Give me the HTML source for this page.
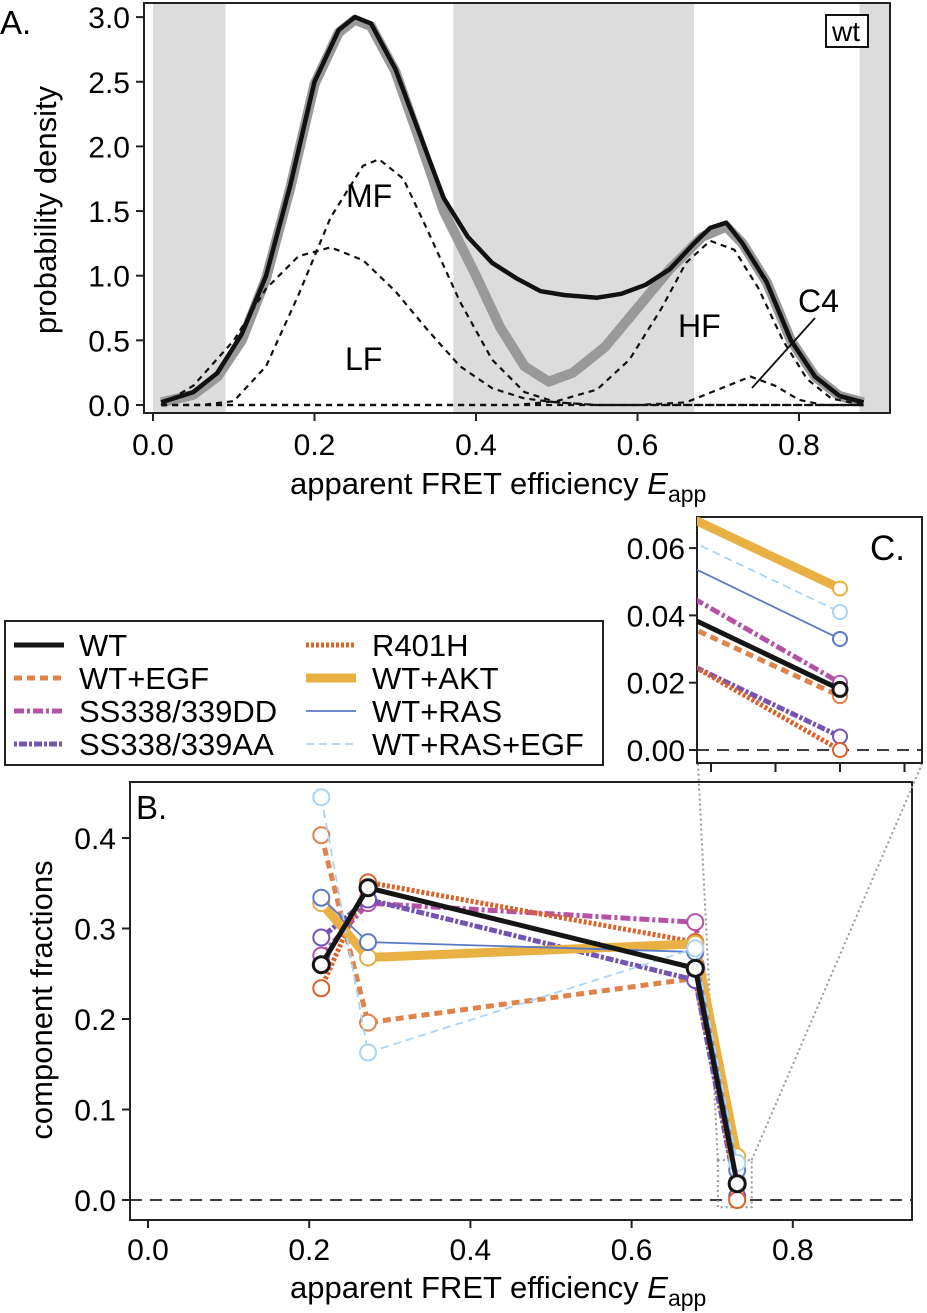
<!DOCTYPE html>
<html><head><meta charset="utf-8"><style>
html,body{margin:0;padding:0;background:#fff;}
svg{display:block;font-family:"Liberation Sans",sans-serif;}
</style></head><body>
<svg id="fig" width="927" height="1313" viewBox="0 0 927 1313" xmlns="http://www.w3.org/2000/svg">
<defs>
<clipPath id="clipA"><rect x="144" y="3" width="746" height="410"/></clipPath>
<clipPath id="clipC"><rect x="697" y="517" width="225" height="246"/></clipPath>
</defs>
<g id="panelA"></g>
<g id="panelB"></g>
<g id="panelC"></g>
<g id="legend"></g>
</svg>
<script>
// ---- Panel A data ----
const aTotalE = [0.01,0.05,0.08,0.11,0.14,0.17,0.20,0.23,0.25,0.27,0.30,0.33,0.36,0.39,0.42,0.45,0.48,0.51,0.55,0.58,0.61,0.64,0.67,0.69,0.71,0.73,0.76,0.79,0.82,0.85,0.88];
const aTotalY = [0.02,0.10,0.25,0.55,1.00,1.70,2.50,2.90,3.00,2.95,2.60,2.10,1.60,1.30,1.10,0.98,0.88,0.85,0.83,0.86,0.93,1.05,1.25,1.37,1.41,1.25,0.95,0.50,0.22,0.07,0.02];
const aFitE = [0.01,0.05,0.08,0.11,0.14,0.17,0.20,0.23,0.25,0.27,0.30,0.33,0.36,0.40,0.43,0.46,0.49,0.52,0.56,0.60,0.64,0.68,0.71,0.73,0.76,0.79,0.82,0.85,0.88];
const aFitY = [0.02,0.08,0.22,0.50,0.98,1.68,2.48,2.88,2.98,2.93,2.58,2.05,1.50,1.00,0.60,0.30,0.18,0.25,0.45,0.75,1.05,1.30,1.38,1.25,0.95,0.50,0.22,0.07,0.02];
const lfE = [0.01,0.05,0.10,0.14,0.18,0.22,0.26,0.30,0.34,0.38,0.42,0.46,0.50,0.55,0.88];
const lfY = [0.0,0.15,0.50,0.90,1.15,1.22,1.12,0.88,0.58,0.30,0.13,0.05,0.02,0.0,0.0];
const mfE = [0.01,0.06,0.10,0.14,0.18,0.22,0.26,0.28,0.31,0.34,0.38,0.42,0.46,0.50,0.55,0.88];
const mfY = [0.0,0.0,0.03,0.30,0.85,1.45,1.85,1.90,1.75,1.35,0.80,0.35,0.10,0.02,0.0,0.0];
const hfE = [0.01,0.45,0.50,0.55,0.59,0.63,0.66,0.69,0.72,0.75,0.78,0.81,0.84,0.88];
const hfY = [0.0,0.0,0.03,0.12,0.35,0.75,1.10,1.27,1.20,0.90,0.50,0.20,0.05,0.0];
const c4E = [0.01,0.60,0.66,0.70,0.74,0.77,0.80,0.83,0.88];
const c4Y = [0.0,0.0,0.02,0.12,0.22,0.15,0.04,0.0,0.0];
const aBands = [[0.0,0.09],[0.372,0.67],[0.875,0.95]];
const aYTicks = ["0.0","0.5","1.0","1.5","2.0","2.5","3.0"];
const aXTicks = ["0.0","0.2","0.4","0.6","0.8"];

// ---- Panel B/C data ----
const bE = [0.215,0.273,0.679,0.731];
const seriesNames = ["WT+EGF","SS338/339DD","SS338/339AA","R401H","WT+AKT","WT+RAS","WT+RAS+EGF","WT"];
const vWT = [0.260,0.345,0.256,0.018];
const vEGF = [0.403,0.196,0.245,0.016];
const vDD = [0.270,0.328,0.307,0.020];
const vAA = [0.290,0.332,0.243,0.004];
const vR401H = [0.234,0.351,0.285,0.000];
const vAKT = [0.328,0.268,0.283,0.048];
const vRAS = [0.334,0.285,0.274,0.033];
const vRASEGF = [0.445,0.163,0.278,0.041];
const bYTicks = ["0.0","0.1","0.2","0.3","0.4"];
const bXTicks = ["0.0","0.2","0.4","0.6","0.8"];
const cYTicks = ["0.00","0.02","0.04","0.06"];

const NS = "http://www.w3.org/2000/svg";
function mk(parent, tag, attrs, text){
  const e = document.createElementNS(NS, tag);
  for (const k in attrs) e.setAttribute(k, attrs[k]);
  if (text !== undefined) e.textContent = text;
  parent.appendChild(e);
  return e;
}
const FONT = 30;

// scales
const axA = e => 153 + e*807.5;
const ayA = v => 405 - v*129.3;
const axB = e => 148 + e*806;
const ayB = v => 1200 - v*905;
const axC = e => 840 + (e-0.731)*32250;
const ayC = v => 750 - v*3365;

const styles = {
  "WT":{c:"#151515",w:5,d:null},
  "WT+EGF":{c:"#e0834a",w:5,d:"8,5"},
  "SS338/339DD":{c:"#b452a8",w:5,d:"10,3,3,3"},
  "SS338/339AA":{c:"#7354b4",w:5,d:"3,2,8,2"},
  "R401H":{c:"#d9622a",w:5,d:"3,2"},
  "WT+AKT":{c:"#e9b043",w:9,d:null},
  "WT+RAS":{c:"#5b79c9",w:1.8,d:null},
  "WT+RAS+EGF":{c:"#a9d5f5",w:1.8,d:"8,5"}
};
const values = {"WT":vWT,"WT+EGF":vEGF,"SS338/339DD":vDD,"SS338/339AA":vAA,"R401H":vR401H,"WT+AKT":vAKT,"WT+RAS":vRAS,"WT+RAS+EGF":vRASEGF};

// ===== Panel A =====
const A = document.getElementById('panelA');
const gBands = mk(A,'g',{'clip-path':'url(#clipA)'});
aBands.forEach((b,i)=>{
  const r = mk(gBands,'rect',{x:axA(b[0]),y:3,width:axA(b[1])-axA(b[0]),height:410,fill:'#dcdcdc'});
  
  
});
function pathFrom(E,Y,fx,fy){return E.map((e,i)=>(i?'L':'M')+fx(e).toFixed(1)+','+fy(Y[i]).toFixed(1)).join(' ');}
let p;
p = mk(A,'path',{d:pathFrom(aFitE,aFitY,axA,ayA),fill:'none',stroke:'#999',"stroke-width":10,"stroke-linejoin":'round'});
 
[[lfE,lfY,'lf-component'],[mfE,mfY,'mf-component'],[hfE,hfY,'hf-component'],[c4E,c4Y,'c4-component']].forEach(s=>{
  const q = mk(A,'path',{d:pathFrom(s[0],s[1],axA,ayA),fill:'none',stroke:'#111',"stroke-width":2.2,"stroke-dasharray":'6,5'});
   
});
p = mk(A,'path',{d:pathFrom(aTotalE,aTotalY,axA,ayA),fill:'none',stroke:'#111',"stroke-width":4.5,"stroke-linejoin":'round'});
 
p = mk(A,'rect',{x:144,y:3,width:746,height:410,fill:'none',stroke:'#222',"stroke-width":2});
 
aYTicks.forEach(t=>{
  const y = ayA(parseFloat(t));
  mk(A,'line',{x1:136,x2:144,y1:y,y2:y,stroke:'#222',"stroke-width":2});
  const tx = mk(A,'text',{x:130,y:y+11,"text-anchor":'end',"font-size":FONT},t);
   
});
aXTicks.forEach(t=>{
  const x = axA(parseFloat(t));
  mk(A,'line',{x1:x,x2:x,y1:413,y2:421,stroke:'#222',"stroke-width":2});
  const tx = mk(A,'text',{x:x,y:455,"text-anchor":'middle',"font-size":FONT},t);
   
});
</script>
<script>
(function(){
const A = document.getElementById('panelA');
function T(x,y,s,name,extra){const e=mk(A,'text',Object.assign({x:x,y:y,"font-size":FONT},extra||{}),s);

return e;}
T(0,34,"A.","panel-a-label",{"font-size":33});
T(346,207,"MF","mf-label",{"font-size":32});
T(345,370,"LF","lf-label",{"font-size":32});
T(678,337,"HF","hf-label",{"font-size":32});
T(798,312,"C4","c4-label",{"font-size":32});
mk(A,'line',{x1:815,y1:318,x2:752,y2:388,stroke:'#111',"stroke-width":1.8});
const wb = mk(A,'rect',{x:826,y:15,width:42,height:32,fill:'#fff',stroke:'#111',"stroke-width":2});


T(832,41,"wt","wt-tag",{"font-size":28});
T(0,0,"probability density","y-axis-title-a",{"text-anchor":'middle',transform:'translate(56,210) rotate(-90)',"font-size":31});
const xt = T(290,494,"apparent FRET efficiency  ","x-axis-title-a",{"font-size":31});
mk(xt,'tspan',{"font-style":'italic'},"E");
mk(xt,'tspan',{dy:8,"font-size":23},"app");
})();
</script>
<script>
// ===== Panel B =====
(function(){
const B = document.getElementById('panelB');
let r = mk(B,'rect',{x:130,y:782,width:782,height:438,fill:'#fff',stroke:'#222',"stroke-width":2});


mk(B,'line',{x1:130,x2:912,y1:ayB(0),y2:ayB(0),stroke:'#222',"stroke-width":1.8,"stroke-dasharray":'12,8'});
const zx1=axB(0.707), zx2=axB(0.749), zy1=ayB(0.044), zy2=ayB(-0.008);
mk(B,'rect',{x:zx1,y:zy1,width:zx2-zx1,height:zy2-zy1,fill:'none',stroke:'#999',"stroke-width":2,"stroke-dasharray":'2,3'});
mk(B,'line',{x1:zx1,y1:zy1,x2:698,y2:764,stroke:'#999',"stroke-width":2,"stroke-dasharray":'2,3'});
mk(B,'line',{x1:zx2,y1:zy1,x2:922,y2:764,stroke:'#999',"stroke-width":2,"stroke-dasharray":'2,3'});
seriesNames.forEach(n=>{
  const s = styles[n], v = values[n];
  const g = mk(B,'g',{});
  
  
  const a = {d:pathFrom(bE,v,axB,ayB),fill:'none',stroke:s.c,"stroke-width":s.w,"stroke-linejoin":'round'};
  if (s.d) a["stroke-dasharray"]=s.d;
  mk(g,'path',a);
  bE.forEach((e,i)=>{
    const c = mk(g,'circle',{cx:axB(e),cy:ayB(v[i]),r:8,fill:'#fff',stroke:s.c,"stroke-width":n==="WT"?3:2});
    
    
  });
});
bYTicks.forEach(t=>{
  const y = ayB(parseFloat(t));
  mk(B,'line',{x1:122,x2:130,y1:y,y2:y,stroke:'#222',"stroke-width":2});
  const tx = mk(B,'text',{x:116,y:y+11,"text-anchor":'end',"font-size":FONT},t);
  
  
});
bXTicks.forEach(t=>{
  const x = axB(parseFloat(t));
  mk(B,'line',{x1:x,x2:x,y1:1220,y2:1228,stroke:'#222',"stroke-width":2});
  const tx = mk(B,'text',{x:x,y:1260,"text-anchor":'middle',"font-size":FONT},t);
  
  
});
let t = mk(B,'text',{x:136,y:819,"font-size":33},"B.");


t = mk(B,'text',{"text-anchor":'middle',transform:'translate(52,1000) rotate(-90)',"font-size":31},"component fractions");


t = mk(B,'text',{x:290,y:1298,"font-size":31},"apparent FRET efficiency  ");


mk(t,'tspan',{"font-style":'italic'},"E");
mk(t,'tspan',{dy:8,"font-size":23},"app");
})();
</script>
<script>
// ===== Panel C =====
(function(){
const C = document.getElementById('panelC');
let r = mk(C,'rect',{x:697,y:517,width:225,height:246,fill:'#fff',stroke:'#222',"stroke-width":2});


const g = mk(C,'g',{'clip-path':'url(#clipC)'});
mk(g,'line',{x1:697,x2:922,y1:ayC(0),y2:ayC(0),stroke:'#222',"stroke-width":1.8,"stroke-dasharray":'12,8'});
seriesNames.forEach(n=>{
  const s = styles[n], v = values[n];
  const a = {x1:axC(bE[2]),y1:ayC(v[2]),x2:axC(bE[3]),y2:ayC(v[3]),stroke:s.c,"stroke-width":s.w};
  if (s.d) a["stroke-dasharray"]=s.d;
  const l = mk(g,'line',a);
  
  
  const c = mk(g,'circle',{cx:axC(bE[3]),cy:ayC(v[3]),r:7,fill:'#fff',stroke:s.c,"stroke-width":n==="WT"?3:2});
  
  
});
cYTicks.forEach(t=>{
  const y = ayC(parseFloat(t));
  mk(C,'line',{x1:689,x2:697,y1:y,y2:y,stroke:'#222',"stroke-width":2});
  const tx = mk(C,'text',{x:685,y:y+11,"text-anchor":'end',"font-size":FONT},t);
  
  
});
[0.727,0.729,0.731,0.733].forEach(e=>{
  mk(C,'line',{x1:axC(e),x2:axC(e),y1:763,y2:772,stroke:'#222',"stroke-width":2});
});
const t = mk(C,'text',{x:870,y:560,"font-size":35},"C.");


})();
</script>
<script>
// ===== Legend =====
(function(){
const L = document.getElementById('legend');
const r = mk(L,'rect',{x:5,y:621,width:598,height:144,fill:'#fff',stroke:'#222',"stroke-width":2});


const order = ["WT","WT+EGF","SS338/339DD","SS338/339AA","R401H","WT+AKT","WT+RAS","WT+RAS+EGF"];
order.forEach((n,i)=>{
  const col = i<4?0:1, row = i%4;
  const y = 645 + row*33;
  const lx = col? 306:14, tx = col? 372:79;
  const s = styles[n];
  const g = mk(L,'g',{});
  
  
  const a = {x1:lx,x2:lx+50,y1:y,y2:y,stroke:s.c,"stroke-width":s.w};
  if (s.d) a["stroke-dasharray"]=s.d;
  mk(g,'line',a);
  mk(g,'text',{x:tx,y:y+11,"font-size":31},n);
});
})();
</script>
</body></html>
